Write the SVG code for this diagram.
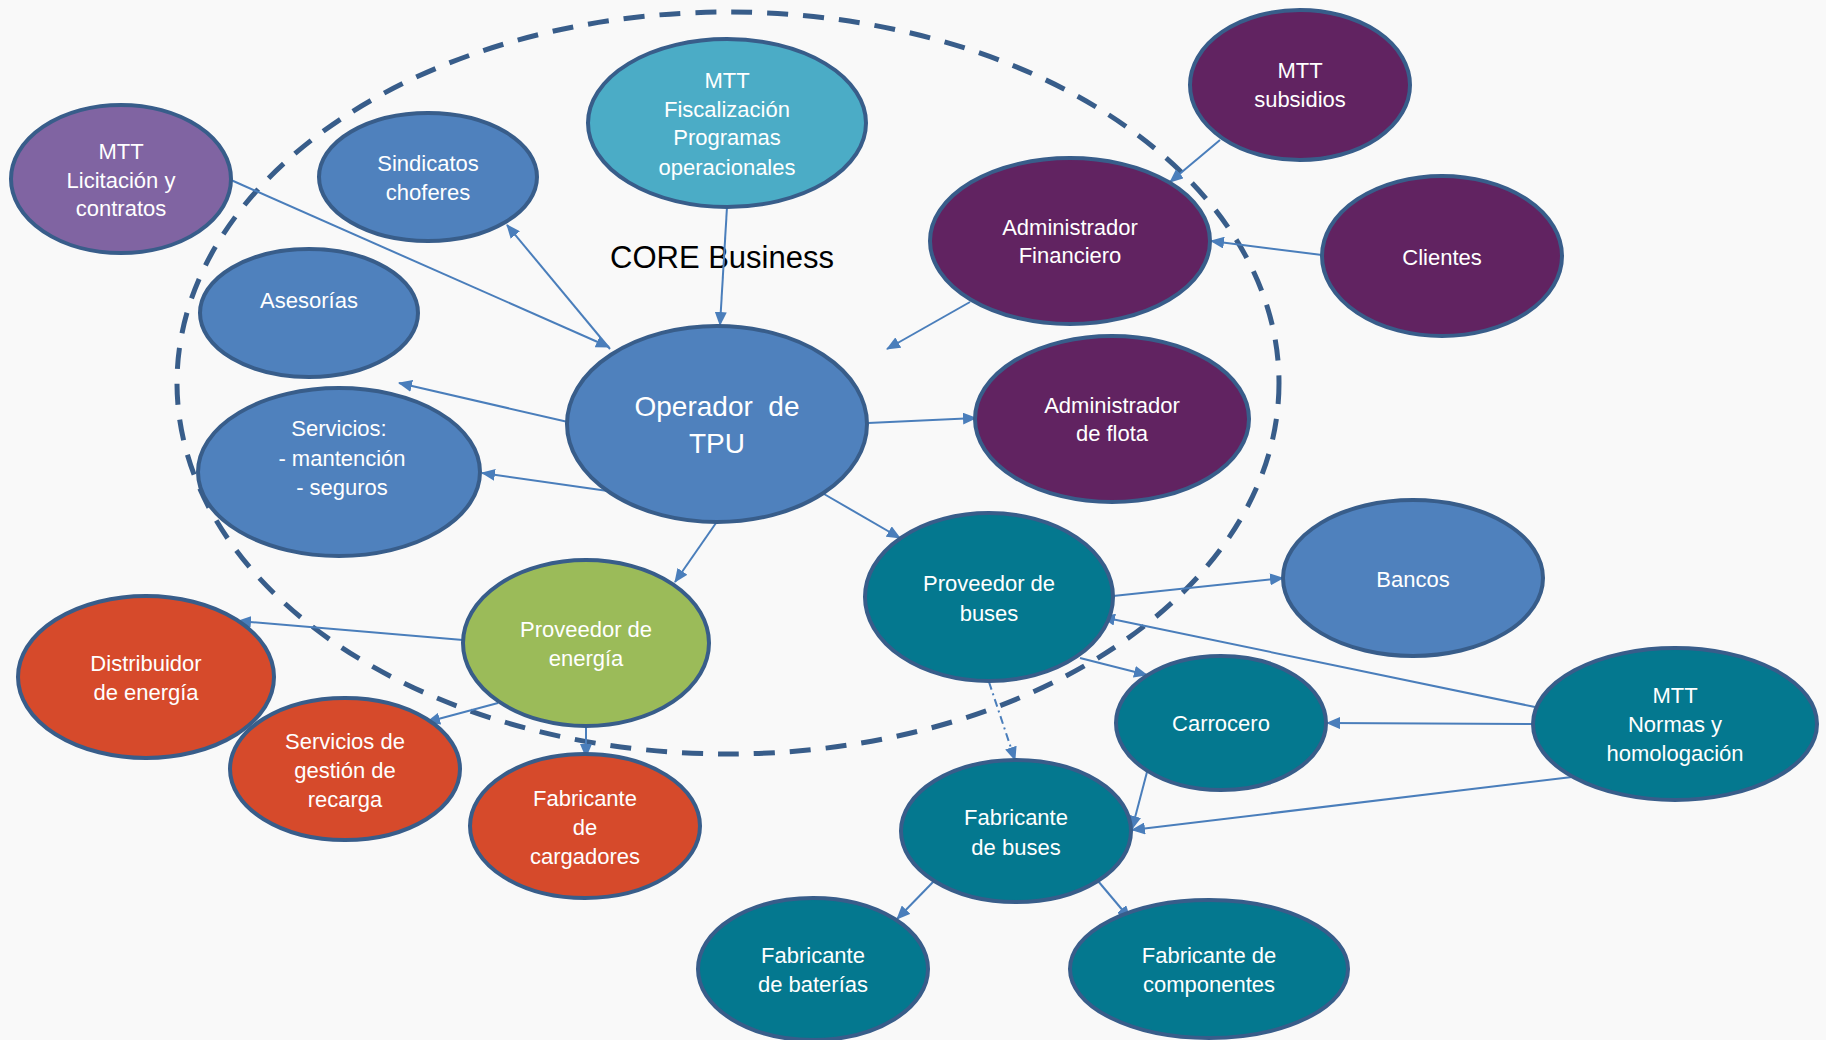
<svg xmlns="http://www.w3.org/2000/svg" width="1826" height="1040" viewBox="0 0 1826 1040">
<style>
.n{stroke:#385D8A;stroke-width:4}
.b{fill:#4F81BD}.t{fill:#04788F}.p{fill:#612361}.l{fill:#8064A2}.c{fill:#4BACC6}.g{fill:#9BBB59}.r{fill:#D64A2B}
text{font-family:"Liberation Sans",Arial,sans-serif;font-size:22px;fill:#fff;text-anchor:middle}
.e{stroke:#4A7EBB;stroke-width:2;fill:none;marker-end:url(#a)}
</style>
<defs>
<marker id="a" viewBox="0 0 14 12" refX="13" refY="6" markerWidth="14" markerHeight="12" markerUnits="userSpaceOnUse" orient="auto">
<path d="M0,0 L14,6 L0,12 Z" fill="#4A7EBB"/>
</marker>
</defs>
<rect width="1826" height="1040" fill="#F9F9F9"/>
<ellipse cx="728" cy="383" rx="551" ry="371" fill="none" stroke="#385D8A" stroke-width="5" stroke-dasharray="21 15"/>
<text x="722" y="268" style="fill:#000;font-size:31px">CORE Business</text>

<g id="connectors">
<line class="e" x1="231" y1="180" x2="609" y2="347"/>
<line class="e" x1="610" y1="349" x2="507" y2="225"/>
<line class="e" x1="727" y1="207" x2="720" y2="325"/>
<line class="e" x1="568" y1="422" x2="399" y2="383"/>
<line class="e" x1="608" y1="491" x2="482" y2="473"/>
<line class="e" x1="868" y1="423" x2="976" y2="418"/>
<line class="e" x1="970" y1="302" x2="887" y2="349"/>
<line class="e" x1="1220" y1="140" x2="1170" y2="182"/>
<line class="e" x1="1322" y1="255" x2="1211" y2="241"/>
<line class="e" x1="824" y1="494" x2="900" y2="538"/>
<line class="e" x1="716" y1="523" x2="675" y2="582"/>
<line class="e" x1="463" y1="640" x2="238" y2="621"/>
<line class="e" x1="498" y1="703" x2="427" y2="722"/>
<line class="e" x1="586" y1="727" x2="586" y2="757"/>
<line class="e" x1="1113" y1="596" x2="1283" y2="578"/>
<line class="e" x1="1535" y1="707" x2="1102" y2="617"/>
<line class="e" x1="1080" y1="658" x2="1147" y2="675"/>
<line class="e" x1="1532" y1="724" x2="1327" y2="723"/>
<line class="e" x1="989" y1="682" x2="1015" y2="760" stroke-dasharray="8 4 2 4"/>
<line class="e" x1="1147" y1="772" x2="1132" y2="829"/>
<line class="e" x1="1572" y1="777" x2="1132" y2="830"/>
<line class="e" x1="934" y1="881" x2="897" y2="919"/>
<line class="e" x1="1098" y1="881" x2="1130" y2="919"/>
</g>

<g id="mtt-licitacion"><ellipse class="n l" cx="121" cy="179" rx="110" ry="74"/><text x="121" y="159">MTT</text><text x="121" y="188">Licitación y</text><text x="121" y="216">contratos</text></g>
<g id="sindicatos"><ellipse class="n b" cx="428" cy="177" rx="109" ry="64"/><text x="428" y="171">Sindicatos</text><text x="428" y="200">choferes</text></g>
<g id="mtt-fiscalizacion"><ellipse class="n c" cx="727" cy="123" rx="139" ry="84"/><text x="727" y="88">MTT</text><text x="727" y="117">Fiscalización</text><text x="727" y="145">Programas</text><text x="727" y="175">operacionales</text></g>
<g id="asesorias"><ellipse class="n b" cx="309" cy="313" rx="109" ry="64"/><text x="309" y="308">Asesorías</text></g>
<g id="servicios"><ellipse class="n b" cx="339" cy="472" rx="141" ry="84"/><text x="339" y="436">Servicios:</text><text x="342" y="466">- mantención</text><text x="342" y="495">- seguros</text></g>
<g id="operador"><ellipse class="n b" cx="717" cy="424" rx="150" ry="98"/><text x="717" y="416" style="font-size:28px;white-space:pre">Operador  de</text><text x="717" y="453" style="font-size:28px">TPU</text></g>
<g id="mtt-subsidios"><ellipse class="n p" cx="1300" cy="85" rx="110" ry="75"/><text x="1300" y="78">MTT</text><text x="1300" y="107">subsidios</text></g>
<g id="admin-financiero"><ellipse class="n p" cx="1070" cy="241" rx="140" ry="83"/><text x="1070" y="235">Administrador</text><text x="1070" y="263">Financiero</text></g>
<g id="clientes"><ellipse class="n p" cx="1442" cy="256" rx="120" ry="80"/><text x="1442" y="265">Clientes</text></g>
<g id="admin-flota"><ellipse class="n p" cx="1112" cy="419" rx="137" ry="83"/><text x="1112" y="413">Administrador</text><text x="1112" y="441">de flota</text></g>
<g id="proveedor-buses"><ellipse class="n t" cx="989" cy="597" rx="124" ry="84"/><text x="989" y="591">Proveedor de</text><text x="989" y="621">buses</text></g>
<g id="bancos"><ellipse class="n b" cx="1413" cy="578" rx="130" ry="78"/><text x="1413" y="587">Bancos</text></g>
<g id="proveedor-energia"><ellipse class="n g" cx="586" cy="643" rx="123" ry="83"/><text x="586" y="637">Proveedor de</text><text x="586" y="666">energía</text></g>
<g id="distribuidor"><ellipse class="n r" cx="146" cy="677" rx="128" ry="81"/><text x="146" y="671">Distribuidor</text><text x="146" y="700">de energía</text></g>
<g id="servicios-recarga"><ellipse class="n r" cx="345" cy="769" rx="115" ry="71"/><text x="345" y="749">Servicios de</text><text x="345" y="778">gestión de</text><text x="345" y="807">recarga</text></g>
<g id="fabricante-cargadores"><ellipse class="n r" cx="585" cy="826" rx="115" ry="72"/><text x="585" y="806">Fabricante</text><text x="585" y="835">de</text><text x="585" y="864">cargadores</text></g>
<g id="carrocero"><ellipse class="n t" cx="1221" cy="723" rx="105" ry="67"/><text x="1221" y="731">Carrocero</text></g>
<g id="mtt-normas"><ellipse class="n t" cx="1675" cy="724" rx="142" ry="76"/><text x="1675" y="703">MTT</text><text x="1675" y="732">Normas y</text><text x="1675" y="761">homologación</text></g>
<g id="fabricante-buses"><ellipse class="n t" cx="1016" cy="831" rx="115" ry="71"/><text x="1016" y="825">Fabricante</text><text x="1016" y="855">de buses</text></g>
<g id="fabricante-baterias"><ellipse class="n t" cx="813" cy="969" rx="115" ry="71"/><text x="813" y="963">Fabricante</text><text x="813" y="992">de baterías</text></g>
<g id="fabricante-componentes"><ellipse class="n t" cx="1209" cy="969" rx="139" ry="69"/><text x="1209" y="963">Fabricante de</text><text x="1209" y="992">componentes</text></g>
</svg>
